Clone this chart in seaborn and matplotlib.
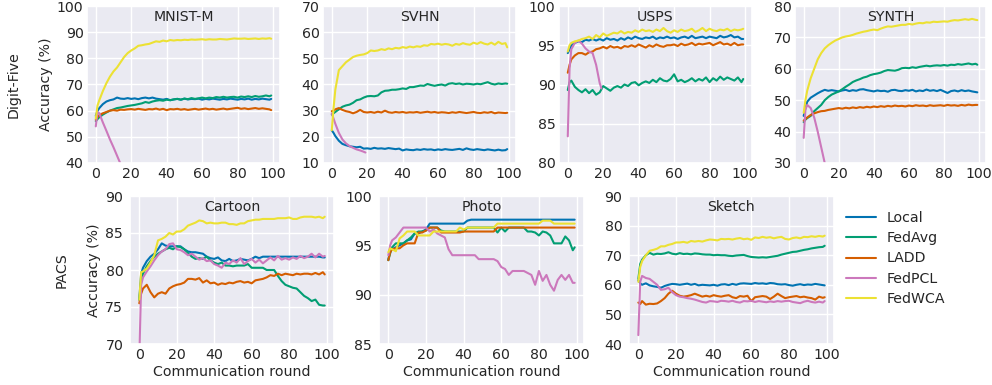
import matplotlib
matplotlib.use("Agg")
import matplotlib.pyplot as plt
import seaborn as sns

# ---------------- data ----------------
ROUNDS = [0, 1] + list(range(2, 100, 2)) + [99]          # 52 rounds
ROUNDS_SHORT = [0, 1, 2, 4, 6, 8, 10, 12, 14, 16, 18, 19]  # FedPCL on Digit-Five

METHODS = ["Local", "FedAvg", "LADD", "FedPCL", "FedWCA"]
COLORS = ["#0173b2", "#029e73", "#d55e00", "#cc78bc", "#ece133"]

# MNIST-M
mnistm_local = [58, 60, 61, 62.5, 63.5, 64, 64.3, 65, 64.6, 64.5,
                64.8, 64.5, 64.7, 64.4, 64.8, 65, 64.7, 65, 64.6, 64.4,
                64.2, 64.5, 64, 64.3, 64.5, 64.2, 64.6, 64.3, 64.5, 64.4,
                64.6, 64.2, 64.5, 64.3, 64.6, 64.4, 64.2, 64.5, 64.3, 64.6,
                64.4, 64.2, 64.5, 64.3, 64.6, 64.2, 64.5, 64.3, 64.6, 64.4,
                64.2, 64.5]
mnistm_fedavg = [56, 56.8, 57.5, 58.5, 59.3, 60, 60.5, 61, 61.2, 61.5,
                 61.8, 62, 62.2, 62.5, 62.8, 63.3, 63, 63.5, 63.8, 64,
                 63.8, 64.2, 64, 64.3, 64.5, 64.2, 64.6, 64.4, 64.8, 64.5,
                 64.7, 65, 64.7, 65, 64.8, 65.2, 65, 65.3, 65, 65.2,
                 65.3, 65, 65.4, 65.2, 65.5, 65.2, 65.6, 65.3, 65.5, 65.8,
                 65.5, 65.8]
mnistm_ladd = [56.5, 57.5, 58.3, 59, 59.5, 60, 60.2, 60, 60.4, 60.3,
               60.5, 60.6, 60.4, 60.7, 60.5, 60.3, 60.6, 60.5, 60.8, 60.4,
               60.7, 60.2, 60.6, 60.5, 60.7, 60.4, 60.6, 60.3, 60.5, 60.7,
               60.4, 60.6, 60.8, 60.5, 60.7, 60.4, 60.6, 60.8, 60.5, 60.7,
               60.9, 61.1, 60.7, 60.9, 60.6, 60.8, 61, 60.7, 60.9, 60.7,
               60.5, 60.2]
mnistm_fedpcl = [54, 59.5, 59, 55.5, 52.3, 49, 46, 42.8, 39.6, 36.4, 33, 31.5]
mnistm_fedwca = [57, 62, 64, 67.5, 70.5, 73, 75, 76.5, 78.5, 80.5,
                 82, 83, 83.8, 84.8, 85, 85.3, 85.5, 86, 86.5, 86.3,
                 86.8, 86.5, 87, 86.8, 87, 86.9, 87.1, 87, 87.2, 87.1,
                 87.2, 87.3, 87.1, 87.3, 87.2, 87.2, 87.4, 87.3, 87.2, 87.4,
                 87.6, 87.5, 87.5, 87.6, 87.4, 87.5, 87.6, 87.4, 87.6, 87.5,
                 87.7, 87.5]

# SVHN
svhn_local = [22.5, 21.5, 20.3, 18.5, 17.3, 16.8, 16.4, 16.2, 16, 16.2,
              15.5, 15.6, 15.4, 15.8, 15.5, 15.6, 15.4, 15.7, 15.5, 15.3,
              15.5, 14.8, 15.2, 15, 14.9, 15.2, 15, 15.3, 15.1, 15.2,
              14.9, 15.2, 15, 15.3, 15.1, 15, 15.2, 15.4, 15, 15.6,
              15.2, 15, 15.3, 15.1, 14.9, 15.2, 15, 14.8, 15.1, 14.8,
              14.9, 15.3]
svhn_fedavg = [28.5, 29, 29.5, 30.5, 31.5, 32, 32.3, 33, 34, 34.3,
               35, 35.5, 35.6, 35.5, 35.8, 37, 37.6, 37.7, 38, 38,
               38.2, 38.5, 38.3, 39, 39, 39.3, 39.6, 39.5, 40.2, 39.8,
               39.5, 39.8, 40, 39.6, 40.3, 40.5, 40.2, 40.4, 40, 40.3,
               40.2, 40, 40.3, 40.1, 40.5, 40.9, 40.3, 40, 40.4, 40.2,
               40.4, 40.3]
svhn_ladd = [29.8, 30, 30.5, 31, 30.3, 29.8, 29.5, 29, 29.5, 30.3,
             29.5, 29.3, 29.5, 29.2, 29.6, 29.3, 30, 29.4, 29.2, 29.5,
             29.3, 29.5, 29.2, 29.4, 29.3, 29.5, 29.2, 29.4, 29.6, 29.3,
             29.5, 29.2, 29.4, 29.3, 29.1, 29.4, 29.2, 29.5, 29.3, 29.1,
             29.3, 29.5, 29.2, 29.1, 29.4, 29.2, 29.5, 29, 29.3, 29.2,
             29.1, 29.2]
svhn_fedpcl = [29, 27, 25, 21.5, 19, 17.5, 16.5, 15.8, 15.2, 14.8, 14.3, 14]
svhn_fedwca = [22.5, 31, 38, 45.5, 47, 48.5, 49.5, 50.5, 51, 51.3,
               51.5, 52, 53, 52.8, 53, 53.5, 53.2, 53.8, 53.5, 54,
               53.8, 54.3, 54, 54.5, 54.2, 54.6, 54.4, 55, 54.8, 55.5,
               55.3, 55.6, 55.2, 55.5, 55.3, 54.8, 55.5, 55.2, 55.8, 55.4,
               55.2, 56, 55.5, 56.2, 55.6, 55.3, 56, 55.2, 56.3, 55.5,
               55.8, 54.2]

# USPS
usps_local = [94, 94.5, 95, 95.3, 95.5, 95.4, 95.7, 95.6, 95.8, 95.6,
              95.8, 95.6, 95.9, 95.7, 95.8, 95.6, 95.9, 95.7, 96, 95.8,
              96.1, 95.9, 95.8, 96, 95.9, 96.1, 95.8, 96, 95.9, 96.1,
              95.9, 96, 95.8, 96, 96.1, 95.9, 96.2, 95.9, 96, 96.1,
              95.9, 96.1, 96, 95.9, 96.2, 96, 96.1, 96.3, 96, 96.1,
              95.8, 95.8]
usps_fedavg = [89.3, 90.3, 90.5, 89.7, 89.3, 89, 89.4, 88.9, 89.3, 88.7,
               89, 89.8, 89.5, 89.2, 89.6, 89.8, 89.6, 90, 89.8, 90.2,
               90.3, 89.9, 90.2, 90.4, 90.2, 90.6, 90.3, 90.8, 90.5, 90.4,
               90.7, 91.3, 90.4, 90.6, 90.3, 90.5, 90.8, 90.4, 90.7, 90.5,
               90.9, 90.3, 90.8, 90.5, 91, 90.6, 90.9, 90.7, 90.5, 90.9,
               90.3, 90.7]
usps_ladd = [91.5, 92.5, 93.2, 93.7, 94, 94, 93.8, 94.1, 94.2, 94.5,
             94.6, 94.8, 94.6, 94.9, 94.7, 94.8, 94.6, 94.9, 94.8, 95,
             94.8, 95.1, 94.9, 94.7, 95, 94.8, 95.1, 94.9, 94.8, 95,
             95, 95.1, 94.9, 95.2, 95, 95.1, 95.3, 95, 95.2, 95.1,
             95.2, 95.3, 95, 95.2, 95.4, 95.1, 95.2, 95, 95.3, 95,
             95.1, 95.1]
usps_fedpcl = [83.4, 92, 94.5, 95.3, 95.6, 95.2, 94.6, 94.2, 94, 92.5, 90.2, 89.5]
usps_fedwca = [94.2, 95, 95.3, 95.5, 95.6, 95.8, 95.9, 96.1, 95.8, 96.3,
               96, 96.5, 96.2, 96.4, 96.6, 96.5, 96.8, 96.5, 96.7, 96.6,
               96.9, 96.7, 97, 96.8, 96.9, 96.7, 97, 96.8, 97.2, 96.8,
               96.6, 96.9, 96.7, 97, 96.8, 96.9, 97.1, 96.7, 96.9, 97.2,
               96.8, 97.1, 96.9, 96.8, 97, 96.9, 97.1, 96.8, 97, 96.9,
               97, 97.1]

# SYNTH
synth_local = [45, 47.5, 49.5, 50.8, 51.5, 52.2, 52.8, 53.3, 53, 53.2,
               53, 52.8, 53.1, 53.3, 52.9, 53.2, 53, 53.4, 53.5, 53.2,
               53, 52.8, 53.1, 52.9, 53, 52.7, 53.2, 53.3, 53, 52.9,
               53.2, 53, 53.3, 52.8, 53.1, 52.9, 53.4, 53, 53.2, 52.9,
               53.3, 52.8, 52.3, 52.9, 53.1, 52.8, 53.2, 52.9, 53.1, 52.8,
               52.6, 52.5]
synth_fedavg = [43, 43.8, 44.3, 45, 46.5, 47.5, 48.5, 50, 51, 51.8,
                52.3, 52.8, 53.5, 54.3, 55, 55.8, 56.3, 56.7, 57.2, 57.5,
                58, 58.3, 58.5, 58.8, 59.3, 59.6, 59.5, 59.4, 59.7, 60.2,
                60.3, 60.2, 60.5, 60.3, 60.6, 60.8, 61, 60.8, 61, 61.1,
                61, 61.2, 61, 61.3, 61.2, 61.5, 61.3, 61.5, 61.7, 61.4,
                61.6, 61.3]
synth_ladd = [43.5, 44, 44.5, 45.3, 45.8, 46.2, 46.5, 46.6, 46.9, 47.1,
              47.3, 47.5, 47.3, 47.6, 47.4, 47.7, 47.5, 47.8, 47.6, 47.9,
              47.7, 48, 47.8, 48.1, 47.9, 48.2, 48, 48.3, 48.1, 48.2,
              48, 48.3, 48.1, 48.4, 48.2, 48.3, 48.1, 48.4, 48.2, 48.3,
              48.4, 48.2, 48.5, 48.3, 48.4, 48.2, 48.5, 48.3, 48.6, 48.4,
              48.5, 48.5]
synth_fedpcl = [38, 47, 48.5, 47.5, 44.5, 40, 35, 30, 25.5, 21.5, 18, 16]
synth_fedwca = [46, 50, 53, 57, 60, 63, 65, 66.5, 67.5, 68.3,
                69, 69.5, 70, 70.3, 70.5, 70.8, 71.2, 71.5, 71.8, 72,
                72.3, 72.5, 72.3, 72.8, 73.2, 73.5, 73.4, 73.6, 73.8, 74,
                74, 74.3, 74.1, 74.4, 74.6, 74.5, 74.8, 74.7, 75, 74.9,
                75, 75.1, 75, 75.3, 75.5, 75.4, 75.6, 75.8, 75.6, 75.9,
                75.6, 75.5]

# Cartoon
cartoon_local = [76, 79.5, 80.3, 81.2, 81.8, 82.2, 82.8, 83.6, 83.3, 83.2,
                 83.2, 83.2, 83.2, 82.8, 82.5, 82.4, 82.4, 82.3, 82.2, 81.8,
                 81.6, 81.5, 81.7, 81.3, 81.2, 81.5, 81.2, 81.3, 81.5, 81.4,
                 81.3, 81.5, 81.8, 81.6, 81.8, 81.8, 81.8, 81.8, 81.8, 81.8,
                 81.8, 81.8, 81.8, 81.8, 81.8, 81.8, 81.8, 81.8, 81.8, 81.8,
                 81.7, 81.7]
cartoon_fedavg = [76, 78.5, 79.5, 80.5, 81.2, 81.8, 82.2, 82.5, 82.8, 83,
                  82.8, 83.2, 83.1, 82.8, 82.3, 81.8, 81.5, 81.6, 81.5, 81.8,
                  81.3, 81, 80.8, 81, 80.6, 80.6, 80.5, 80.6, 80.6, 80.6,
                  80.8, 80.3, 80.3, 80.3, 80.3, 80, 80, 80, 79.2, 78.5,
                  78, 77.8, 77.6, 77.5, 77, 76.5, 76.2, 75.8, 76, 75.3,
                  75.2, 75.2]
cartoon_ladd = [75.5, 76.8, 77.5, 78, 77, 76.3, 76.8, 77, 76.8, 77.5,
                77.8, 78, 78.1, 78.3, 78.8, 78.8, 78.7, 78.9, 78.3, 78.6,
                78.2, 78.3, 78, 78.2, 78.1, 78.3, 78.2, 78.4, 78.5, 78.3,
                78.4, 78.2, 78.6, 78.7, 78.8, 79, 79.3, 79.2, 79.5, 79.3,
                79.5, 79.4, 79.3, 79.5, 79.4, 79.5, 79.5, 79.4, 79.6, 79.4,
                79.7, 79.4]
cartoon_fedpcl = [68, 78, 79, 79.8, 80.5, 81.3, 82, 82.5, 82.8, 83.5,
                  83.6, 82.8, 82.7, 82.4, 82, 82.2, 81.8, 81.4, 81.6, 81.2,
                  81.3, 80.8, 80.6, 80.3, 81, 80.8, 81.3, 81, 81.6, 80.8,
                  81.2, 81.5, 81, 81.4, 80.9, 81.3, 81.7, 81.3, 81.9, 81.4,
                  81.6, 81.4, 81.7, 81.5, 81.9, 81.6, 81.8, 82.2, 81.7, 82.2,
                  81.8, 81.9]
cartoon_fedwca = [76, 79.7, 79.8, 80.2, 81, 82, 84, 84.2, 84.5, 85,
                  84.8, 85.2, 85.2, 85.5, 86, 86.2, 86.4, 86.7, 86.6, 86.3,
                  86.4, 86.3, 86.3, 86.4, 86.4, 86.2, 86.2, 86.1, 86.3, 86.3,
                  86.6, 86.7, 86.8, 86.8, 86.9, 86.9, 86.9, 86.9, 87, 87,
                  87, 87.1, 86.9, 86.9, 87.1, 87.2, 87.2, 87.2, 87.1, 87.2,
                  87, 87.2]

# Photo
photo_local = [93.5, 94.6, 94.6, 94.8, 95, 95.2, 95.5, 95.6, 96.2, 96.2,
               96.4, 96.6, 97.2, 97.2, 97.2, 97.2, 97.2, 97.2, 97.2, 97.2,
               97.2, 97.2, 97.5, 97.6, 97.6, 97.6, 97.6, 97.6, 97.6, 97.6,
               97.6, 97.6, 97.6, 97.6, 97.6, 97.6, 97.6, 97.6, 97.6, 97.6,
               97.6, 97.6, 97.6, 97.6, 97.6, 97.6, 97.6, 97.6, 97.6, 97.6,
               97.6, 97.6]
photo_fedavg = [93.5, 94.2, 94.8, 95.2, 95.2, 95.2, 95.5, 95.8, 96.2, 96.4,
                96.4, 96.5, 96.8, 96.8, 96.8, 96.5, 96.4, 96.4, 96.4, 96.4,
                96.4, 96.4, 96.8, 96.8, 96.8, 96.8, 96.8, 96.8, 96.8, 96.8,
                96.3, 96.8, 96.4, 96.8, 96.8, 96.8, 96.8, 96.8, 96.4, 96.4,
                96.3, 96, 96.4, 96.3, 96, 95.2, 95.2, 95.2, 95.9, 95.5,
                94.5, 94.8]
photo_ladd = [93.5, 94.3, 94.6, 94.7, 94.7, 95, 95.2, 95.2, 95.2, 96.3,
              96.3, 96.5, 96.8, 96.8, 96.8, 96.3, 96.3, 96.3, 96.3, 96.3,
              96.3, 96.4, 96.4, 96.4, 96.4, 96.4, 96.4, 96.4, 96.4, 96.4,
              96.8, 96.8, 96.8, 96.8, 96.8, 96.8, 96.8, 96.8, 96.8, 96.8,
              96.8, 96.8, 96.8, 96.8, 96.8, 96.8, 96.8, 96.8, 96.8, 96.8,
              96.8, 96.8]
photo_fedpcl = [94, 95, 95.5, 95.8, 96.3, 96.8, 96.8, 96.8, 96.8, 96.8,
                96.8, 96.8, 96.4, 96.6, 96.2, 96, 95.8, 94.6, 94, 94,
                94, 94, 94, 94, 94, 93.6, 93.6, 93.6, 93.6, 93.6,
                93.4, 92.8, 92.6, 92, 92.4, 92.4, 92.4, 92.4, 92.2, 92,
                91, 92.4, 91.4, 92, 91, 90.4, 91.5, 92, 91.5, 92,
                91.2, 91.2]
photo_fedwca = [94.3, 94.7, 94.6, 94.4, 95.7, 96, 96.4, 96.4, 96.4, 96,
                96, 96, 96, 96.4, 96.4, 96.4, 96.4, 96.4, 96.4, 96.4,
                96.8, 96.6, 96.8, 96.8, 96.8, 96.8, 96.8, 96.8, 96.8, 96.8,
                97.2, 97.2, 97.2, 97.2, 97.2, 97.2, 97.2, 97.2, 97.2, 97.2,
                97.2, 97.2, 97.5, 97.5, 97.5, 97.2, 97.2, 97.2, 97.2, 97.2,
                97.2, 97.2]

# Sketch
sketch_local = [61.5, 60.5, 60, 60.5, 59.8, 59.5, 59.3, 59, 59.6, 60,
                60.3, 60.2, 60, 60.2, 60.4, 60, 60.3, 59.8, 60, 59.9,
                59.8, 60, 59.7, 60.1, 60.2, 59.9, 60.3, 60, 60.4, 60.5,
                60.4, 60.3, 60.6, 60.4, 60.5, 60.3, 60.6, 60.5, 60.2, 60.1,
                60.2, 59.9, 59.7, 60, 60.2, 59.9, 60.1, 60, 60.3, 60.1,
                59.9, 59.8]
sketch_fedavg = [62, 67, 68.5, 70, 70.8, 70.2, 70.5, 70.4, 70.6, 71,
                 70.5, 70.3, 70.7, 70.4, 70.5, 70.3, 70.6, 70.5, 70.3, 70.2,
                 70.2, 70, 70.1, 70, 70, 69.8, 69.7, 69.9, 70, 70.1,
                 69.7, 69.4, 69.3, 69.2, 69.3, 69.2, 69.4, 69.6, 69.8, 70.2,
                 70.5, 70.8, 71.1, 71.2, 71.5, 71.8, 72, 72.3, 72.5, 72.7,
                 72.8, 73.2]
sketch_ladd = [54, 53.5, 54.5, 53.3, 53.6, 53.5, 53.7, 54.5, 55.5, 57,
               58, 57, 56.3, 56, 56.2, 56.5, 57, 56.5, 56, 56.3,
               56, 56.5, 56.2, 56, 56.3, 56.5, 55.8, 55.5, 56.2, 56,
               56.3, 54.5, 55.8, 56, 56.2, 56, 55.2, 56, 57, 56.2,
               55.5, 55.8, 56, 56.2, 55.8, 56, 55.7, 55.5, 55, 56,
               55.6, 55.8]
sketch_fedpcl = [43, 61, 63, 62.3, 62, 61, 60, 58.3, 58.5, 59,
                 57.5, 56.5, 56, 55.8, 55.5, 55.3, 55, 54.6, 54.2, 54,
                 54.5, 54.4, 54.2, 54.6, 54.5, 54.3, 54.6, 54.2, 54, 54.5,
                 54.4, 54.6, 54.2, 54.5, 54.3, 54.1, 54.4, 54.2, 54.5, 54.3,
                 54.5, 54.6, 54.2, 54, 53.8, 54.3, 54.6, 54.2, 54, 54.3,
                 54, 54.5]
sketch_fedwca = [61, 66, 68, 70, 71.5, 71.8, 72.2, 73, 73, 73.5,
                 73.8, 74.3, 74.3, 74.5, 74.2, 74.8, 74.6, 74.8, 74.6, 75,
                 75.3, 75.2, 75, 75.5, 75.4, 75.5, 75.3, 75.6, 75.8, 75.4,
                 75.6, 75.2, 76, 75.8, 76.2, 75.9, 76.1, 75.7, 76, 76.2,
                 75.5, 75.3, 75.8, 76, 75.7, 76.2, 76.1, 76.4, 76.2, 76.5,
                 76.3, 76.6]

# ---------------- figure ----------------
sns.set_theme(style="darkgrid", palette="colorblind")
plt.rcParams["font.family"] = ["DejaVu Sans"]
FS = 10.2
plt.rcParams.update({"xtick.labelsize": FS, "ytick.labelsize": FS,
                     "axes.labelsize": FS, "legend.fontsize": FS,
                     "xtick.major.size": 0, "ytick.major.size": 0})

W, H = 992, 385
fig = plt.figure(figsize=(W / 100, H / 100), dpi=100)


def make_ax(left, top, width, height):
    return fig.add_axes([left / W, 1 - (top + height) / H, width / W, height / H])


panels = [
    dict(title="MNIST-M", data=[mnistm_local, mnistm_fedavg, mnistm_ladd, mnistm_fedpcl, mnistm_fedwca],
         ylim=(40, 100), yticks=[40, 50, 60, 70, 80, 90, 100], short=True,
         box=(87, 6, 193, 157), ylabel="Digit-Five\n\nAccuracy (%)", xlabel=None, ylx=-0.176),
    dict(title="SVHN", data=[svhn_local, svhn_fedavg, svhn_ladd, svhn_fedpcl, svhn_fedwca],
         ylim=(10, 70), yticks=[10, 20, 30, 40, 50, 60, 70], short=True,
         box=(323, 6, 193, 157), ylabel=None, xlabel=None, ylx=None),
    dict(title="USPS", data=[usps_local, usps_fedavg, usps_ladd, usps_fedpcl, usps_fedwca],
         ylim=(80, 100), yticks=[80, 85, 90, 95, 100], short=True,
         box=(559, 6, 193, 157), ylabel=None, xlabel=None, ylx=None),
    dict(title="SYNTH", data=[synth_local, synth_fedavg, synth_ladd, synth_fedpcl, synth_fedwca],
         ylim=(30, 80), yticks=[30, 40, 50, 60, 70, 80], short=True,
         box=(795, 6, 191, 157), ylabel=None, xlabel=None, ylx=None),
    dict(title="Cartoon", data=[cartoon_local, cartoon_fedavg, cartoon_ladd, cartoon_fedpcl, cartoon_fedwca],
         ylim=(70, 90), yticks=[70, 75, 80, 85, 90], short=False,
         box=(130, 196, 204, 148), ylabel="PACS\n\nAccuracy (%)", xlabel="Communication round", ylx=-0.144),
    dict(title="Photo", data=[photo_local, photo_fedavg, photo_ladd, photo_fedpcl, photo_fedwca],
         ylim=(85, 100), yticks=[85, 90, 95, 100], short=False,
         box=(379, 196, 205, 148), ylabel=None, xlabel="Communication round", ylx=None),
    dict(title="Sketch", data=[sketch_local, sketch_fedavg, sketch_ladd, sketch_fedpcl, sketch_fedwca],
         ylim=(40, 90), yticks=[40, 50, 60, 70, 80, 90], short=False,
         box=(629, 196, 205, 148), ylabel=None, xlabel="Communication round", ylx=None),
]

for i, p in enumerate(panels):
    top_row = i < 4
    ax = make_ax(*p["box"])
    for name, color, vals in zip(METHODS, COLORS, p["data"]):
        xs = ROUNDS_SHORT if (name == "FedPCL" and p["short"]) else ROUNDS
        sns.lineplot(x=xs, y=vals, ax=ax, color=color, linewidth=1.5, label=name, legend=False)
    ax.set_xlim(-4.95, 103.95)
    ax.set_ylim(*p["ylim"])
    ax.set_yticks(p["yticks"])
    ax.set_xticks([0, 20, 40, 60, 80, 100])
    ax.tick_params(axis="x", pad=3.2 if top_row else 2.8)
    ax.tick_params(axis="y", pad=2.5 if top_row else 4.8)
    ax.text(0.5, 0.93 if top_row else 0.925, p["title"], transform=ax.transAxes,
            ha="center", va="center", fontsize=FS)
    ax.set_ylabel(p["ylabel"] if p["ylabel"] else "", fontsize=FS)
    if p["ylx"] is not None:
        ax.yaxis.set_label_coords(p["ylx"], 0.5)
    ax.set_xlabel(p["xlabel"] if p["xlabel"] else "", fontsize=FS, labelpad=2)
    if p["title"] == "Sketch":
        handles, labels = ax.get_legend_handles_labels()

fig.legend(handles, labels, loc="upper left", bbox_to_anchor=(833 / W, 1 - 198 / H),
           frameon=False, fontsize=FS, handlelength=2.1, handletextpad=0.8,
           labelspacing=0.45)

fig.savefig("out.png", dpi=100)
